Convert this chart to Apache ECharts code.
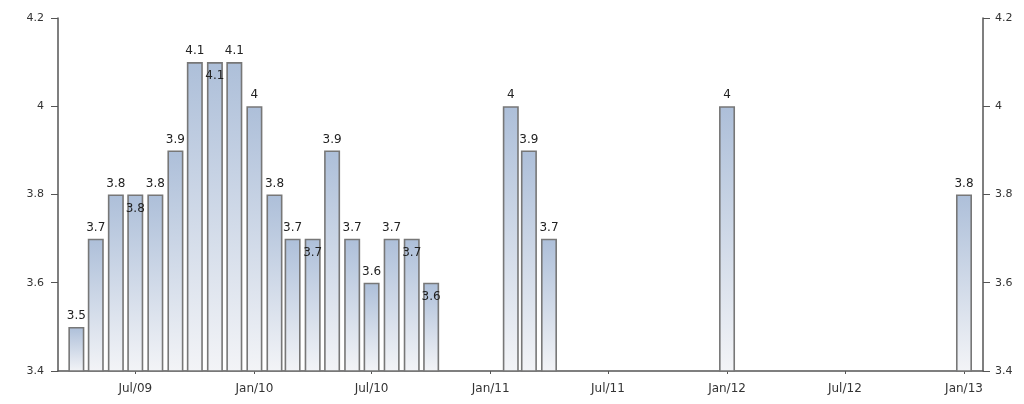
<!DOCTYPE html>
<html>
<head>
<meta charset="utf-8">
<script src="https://cdn.jsdelivr.net/npm/echarts@6/dist/echarts.min.js"></script>
<style>
  html, body { margin: 0; padding: 0; background: #ffffff; }
  #chart { width: 1024px; height: 404px; }
</style>
</head>
<body>
<div id="chart"></div>
<script>
// Monthly readings (first day of each month)
const months = [
  '2009-04-01', '2009-05-01', '2009-06-01', '2009-07-01', '2009-08-01', '2009-09-01',
  '2009-10-01', '2009-11-01', '2009-12-01', '2010-01-01', '2010-02-01', '2010-03-01',
  '2010-04-01', '2010-05-01', '2010-06-01', '2010-07-01', '2010-08-01', '2010-09-01',
  '2010-10-01', '2011-02-01', '2011-03-01', '2011-04-01', '2012-01-01', '2013-01-01'
];
const values = [
  3.5, 3.7, 3.8, 3.8, 3.8, 3.9,
  4.1, 4.1, 4.1, 4.0, 3.8, 3.7,
  3.7, 3.9, 3.7, 3.6, 3.7, 3.7,
  3.6, 4.0, 3.9, 3.7, 4.0, 3.8
];
// Months whose value label sits inside the bar to avoid clashing with a neighbour
const labelsInside = ['2009-07-01', '2009-11-01', '2010-04-01', '2010-09-01', '2010-10-01'];

const monthNames = ['Jan', 'Feb', 'Mar', 'Apr', 'May', 'Jun', 'Jul', 'Aug', 'Sep', 'Oct', 'Nov', 'Dec'];
const yTicks = { min: 3.4, max: 4.2, interval: 0.2 };
// Time span of the axis; ECharts pads it a little more so the edge bars fit
const xRange = { min: '2009-03-16', max: '2013-01-18' };
const DAY = 24 * 3600 * 1000;

const axisColor = '#555555';
const textColor = '#333333';
const fontFamily = 'DejaVu Sans, sans-serif';

const barData = months.map((m, i) => {
  const item = { value: [m, values[i]] };
  if (labelsInside.includes(m)) {
    item.label = { position: 'insideTop', distance: 8 };
  }
  return item;
});

const yAxisBase = (pos) => ({
  type: 'value',
  position: pos,
  min: yTicks.min,
  max: yTicks.max,
  interval: yTicks.interval,
  splitLine: { show: false },
  axisLine: { show: true, lineStyle: { color: axisColor, width: 1.5 } },
  axisTick: { show: true, length: 7, lineStyle: { color: axisColor } },
  axisLabel: { color: textColor, fontSize: 11, fontFamily: fontFamily, margin: pos === 'left' ? 14 : 12 }
});

const chart = echarts.init(document.getElementById('chart'), null, { renderer: 'canvas' });
chart.setOption({
  animation: false,
  backgroundColor: '#ffffff',
  grid: { left: 58, right: 41, top: 18, bottom: 33 },
  xAxis: {
    type: 'time',
    min: xRange.min,
    max: xRange.max,
    // half-year steps: Jan and Jul
    minInterval: 150 * DAY,
    maxInterval: 200 * DAY,
    splitLine: { show: false },
    axisLine: { show: true, onZero: false, lineStyle: { color: axisColor, width: 1.5 } },
    axisTick: { show: true, length: 3, lineStyle: { color: axisColor } },
    axisLabel: {
      color: textColor,
      fontSize: 12,
      fontFamily: fontFamily,
      margin: 12,
      formatter: (val) => {
        const d = new Date(val);
        return monthNames[d.getMonth()] + '/' + String(d.getFullYear()).slice(2);
      }
    }
  },
  yAxis: [yAxisBase('left'), yAxisBase('right')],
  series: [{
    type: 'bar',
    yAxisIndex: 0,
    barWidth: 16,
    data: barData,
    itemStyle: {
      color: new echarts.graphic.LinearGradient(0, 0, 0, 1, [
        { offset: 0, color: '#adbfd9' },
        { offset: 1, color: '#f3f4f7' }
      ]),
      borderColor: '#777777',
      borderWidth: 1.6
    },
    label: {
      show: true,
      position: 'top',
      distance: 5,
      color: '#222222',
      fontSize: 12,
      fontFamily: fontFamily,
      formatter: (p) => String(p.value[1])
    }
  }]
});
</script>
</body>
</html>
